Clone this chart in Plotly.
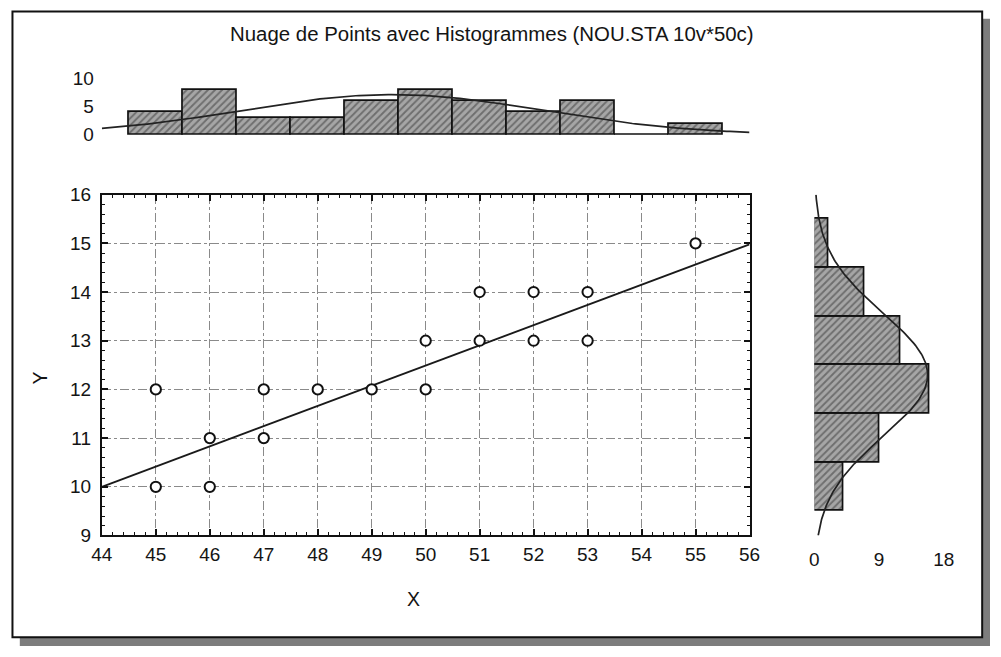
import numpy as np
import plotly.graph_objects as go

# ---------------- data ----------------
title_text = "Nuage de Points avec Histogrammes (NOU.STA 10v*50c)"
x_label = "X"
y_label = "Y"

scatter_x = [45, 45, 46, 46, 47, 47, 48, 49, 50, 50, 51, 51, 52, 52, 53, 53, 55]
scatter_y = [12, 10, 11, 10, 12, 11, 12, 12, 13, 12, 14, 13, 14, 13, 14, 13, 15]

reg_intercept = -8.26
reg_slope = 0.415

x_bins = [45, 46, 47, 48, 49, 50, 51, 52, 53, 54, 55]
x_counts = [4, 8, 3, 3, 6, 8, 6, 4, 6, 0, 2]

y_bins = [10, 11, 12, 13, 14, 15]
y_counts = [4, 9, 16, 12, 7, 2]

x_range = [44, 56]
y_range = [9, 16]
x_ticks = list(range(44, 57))
y_ticks = list(range(9, 17))
top_ticks = [0, 5, 10]
right_ticks = [0, 9, 18]

# ---------------- helpers ----------------
W, H = 1001, 657
# the photographed page comes out slightly shrunk about its centre;
# positions below are given in target picture pixels and mapped back.
CX, CY, SX, SY = 499.0, 326.0, 0.98, 0.9685
K = 1 / ((SX + SY) / 2)          # size compensation for fonts / markers

def page_x(t):
    return CX + (t - CX) / SX
def page_y(t):
    return CY + (t - CY) / SY
def px(t):
    return page_x(t) / W
def py(t):
    return 1 - page_y(t) / H

FONT = "Liberation Sans, Arial, sans-serif"
TXT = "#141414"
TICK_SIZE = 18.5 * K

# normal fits from histogram counts
def normal_fit(centers, counts, lo, hi, width=1.0):
    c = np.array(centers, float)
    n = np.array(counts, float)
    N = n.sum()
    mu = (c * n).sum() / N
    sd = np.sqrt(((c - mu) ** 2 * n).sum() / (N - 1))
    t = np.linspace(lo, hi, 200)
    f = N * width / (sd * np.sqrt(2 * np.pi)) * np.exp(-0.5 * ((t - mu) / sd) ** 2)
    return t, f

fig = go.Figure()

bar_marker = dict(
    color="#a4a4a4",
    line=dict(color="#111111", width=1.7),
    pattern=dict(shape="/", fgcolor="#363636", bgcolor="#a6a6a6", size=5, solidity=0.38),
)

# top histogram
fig.add_trace(go.Bar(x=x_bins, y=x_counts, width=1.0, marker=bar_marker,
                     xaxis="x2", yaxis="y2", hoverinfo="skip"))
tx, tf = normal_fit(x_bins, x_counts, x_range[0], x_range[1])
fig.add_trace(go.Scatter(x=tx, y=tf, mode="lines", line=dict(color="#222", width=1.7),
                         xaxis="x2", yaxis="y2", hoverinfo="skip"))

# right histogram
fig.add_trace(go.Bar(y=y_bins, x=y_counts, orientation="h", width=1.0, marker=bar_marker,
                     xaxis="x3", yaxis="y3", hoverinfo="skip"))
ry, rf = normal_fit(y_bins, y_counts, y_range[0], y_range[1])
fig.add_trace(go.Scatter(x=rf, y=ry, mode="lines", line=dict(color="#222", width=1.7),
                         xaxis="x3", yaxis="y3", hoverinfo="skip"))

# regression line
lx = np.array(x_range, float)
fig.add_trace(go.Scatter(x=lx, y=reg_intercept + reg_slope * lx, mode="lines",
                         line=dict(color="#1a1a1a", width=1.9), hoverinfo="skip"))
# scatter
fig.add_trace(go.Scatter(x=scatter_x, y=scatter_y, mode="markers",
                         marker=dict(symbol="circle", size=10 * K, color="white",
                                     line=dict(color="#111", width=2)),
                         hoverinfo="skip", cliponaxis=False))

# main plot box (target picture pixels)
L, R, T, B = 101, 750, 195, 536

main_axis = dict(
    showline=True, linecolor="#111", linewidth=2, mirror="allticks",
    ticks="inside", ticklen=6, tickcolor="#111", tickwidth=1.5,
    minor=dict(ticks="inside", dtick=0.2, ticklen=3, tickcolor="#111", tickwidth=1.2),
    showgrid=True, gridcolor="#8a8a8a", gridwidth=1, griddash="dashdot",
    zeroline=False,
    tickfont=dict(family=FONT, size=TICK_SIZE, color=TXT),
)

fig.update_layout(
    autosize=True,
    margin=dict(l=0, r=0, t=0, b=0, pad=0),
    paper_bgcolor="white", plot_bgcolor="rgba(0,0,0,0)",
    showlegend=False, bargap=0,
    xaxis=dict(main_axis, domain=[px(L), px(R)], range=x_range, tickvals=x_ticks,
               anchor="y", ticklabelstandoff=1),
    yaxis=dict(main_axis, domain=[py(B), py(T)], range=y_range, tickvals=y_ticks,
               anchor="x", ticklabelstandoff=5),
    xaxis2=dict(domain=[px(L), px(R)], range=x_range, visible=False, anchor="y2"),
    yaxis2=dict(domain=[py(135), py(135 - 10.5 * 5.6)], range=[0, 10.5], tickvals=top_ticks,
                showgrid=False, zeroline=False, showline=False, ticks="",
                tickfont=dict(family=FONT, size=TICK_SIZE, color=TXT), anchor="x2",
                ticklabelstandoff=7),
    xaxis3=dict(domain=[px(815), px(815 + 19 * 7.2)], range=[0, 19], tickvals=right_ticks,
                showgrid=False, zeroline=False, showline=False, ticks="",
                tickfont=dict(family=FONT, size=TICK_SIZE, color=TXT), anchor="free",
                position=py(547)),
    yaxis3=dict(domain=[py(B), py(T)], range=y_range, visible=False, anchor="x3"),
)

# frame with shadow (page pixels, as far out as the page allows)
fig.add_shape(type="rect", xref="paper", yref="paper", x0=9 / W, x1=1, y0=0, y1=1 - 9 / H,
              fillcolor="#7d7d7d", line=dict(width=0), layer="below")
fig.add_shape(type="rect", xref="paper", yref="paper", x0=1.5 / W, x1=993 / W,
              y0=1 - 648 / H, y1=1 - 1.5 / H,
              fillcolor="white", line=dict(color="#111", width=2), layer="below")

# texts
fig.add_annotation(text=title_text, xref="paper", yref="paper", x=px(492), y=py(34),
                   showarrow=False, font=dict(family=FONT, size=20.3 * K * 0.98, color=TXT),
                   xanchor="center", yanchor="middle")
fig.add_annotation(text=x_label, xref="paper", yref="paper", x=px(413), y=py(600),
                   showarrow=False, font=dict(family=FONT, size=19 * K, color=TXT),
                   xanchor="center", yanchor="middle")
fig.add_annotation(text=y_label, xref="paper", yref="paper", x=px(39), y=py(378),
                   showarrow=False, textangle=-90, font=dict(family=FONT, size=19 * K, color=TXT),
                   xanchor="center", yanchor="middle")

fig.write_html("out.html", config={"displayModeBar": False},
               default_width="1001px; margin:-8px", default_height="657px")
